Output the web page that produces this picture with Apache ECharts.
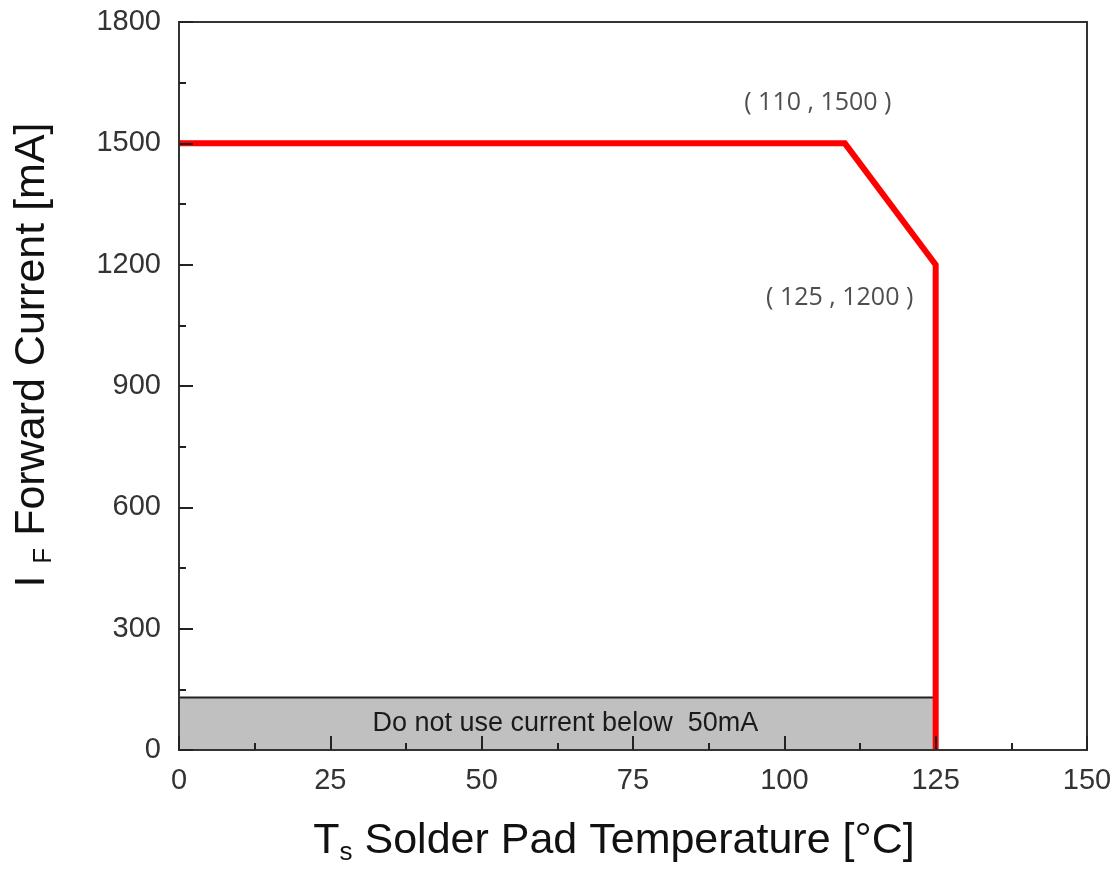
<!DOCTYPE html>
<html>
<head>
<meta charset="utf-8">
<script src="https://cdn.jsdelivr.net/npm/echarts@6/dist/echarts.min.js"></script>
<style>
  html, body { margin: 0; padding: 0; background: #fff; }
  #main { width: 1118px; height: 870px; }
</style>
</head>
<body>
<div id="main"></div>
<script>
// derating curve: Ts [°C] vs IF [mA]
var curveT = [0, 110, 125, 125];
var curveI = [1500, 1500, 1200, 0];
// annotated corner points
var notePoints = [[110, 1500], [125, 1200]];
var noteTexts = ["( 110 , 1500 )", "( 125 , 1200 )"];
// "do not use" band
var bandT = [0, 125];
var bandI = [0, 130];
var bandText = "Do not use current below  50mA";

var curveData = curveT.map(function (t, i) {
  return [t, curveI[i]];
});

var tickLabel = {
  fontFamily: "Liberation Sans",
  fontSize: 29,
  color: "#333",
  formatter: function (v) {
    return String(v);
  },
};
var subStyle = {
  sub: { fontSize: 26, verticalAlign: "bottom", padding: [24, 0, 0, 0], color: "#111" },
};

var myChart = echarts.init(document.getElementById("main"));
myChart.setOption({
  animation: false,
  grid: {
    left: 179,
    top: 22,
    right: 31,
    bottom: 120,
    outerBoundsMode: "none",
    containLabel: false,
    show: true,
    borderColor: "#333",
    borderWidth: 2,
    backgroundColor: "transparent",
  },
  xAxis: {
    type: "value",
    min: 0,
    max: 150,
    interval: 25,
    z: 10,
    name: "T{sub|s} Solder Pad Temperature [°C]",
    nameLocation: "middle",
    nameGap: 66,
    nameTextStyle: {
      fontFamily: "Liberation Sans",
      fontSize: 43,
      color: "#111",
      padding: [0, 38, 0, 0],
      rich: subStyle,
    },
    axisLine: { lineStyle: { color: "#333", width: 2 } },
    axisTick: { inside: true, length: 14, lineStyle: { color: "#222", width: 2 } },
    minorTick: { show: true, splitNumber: 2, length: 7, lineStyle: { color: "#222", width: 2 } },
    splitLine: { show: false },
    axisLabel: Object.assign({ margin: 16 }, tickLabel),
  },
  yAxis: {
    type: "value",
    min: 0,
    max: 1800,
    interval: 300,
    z: 10,
    name: "I {sub|F} Forward Current [mA]",
    nameLocation: "middle",
    nameGap: 122,
    nameTextStyle: {
      fontFamily: "Liberation Sans",
      fontSize: 43,
      color: "#111",
      padding: [0, 0, 0, 62],
      rich: subStyle,
    },
    axisLine: { lineStyle: { color: "#333", width: 2 } },
    axisTick: { inside: true, length: 14, lineStyle: { color: "#222", width: 2 } },
    minorTick: { show: true, splitNumber: 2, length: 7, lineStyle: { color: "#222", width: 2 } },
    splitLine: { show: false },
    axisLabel: Object.assign({ margin: 18 }, tickLabel),
  },
  series: [
    {
      name: "band",
      type: "line",
      data: [],
      z: 1,
      markArea: {
        silent: true,
        itemStyle: { color: "#c0c0c0", borderColor: "#222", borderWidth: 2 },
        label: {
          show: true,
          position: "inside",
          offset: [8, 0],
          fontFamily: "Liberation Sans",
          fontSize: 27,
          color: "#1a1a1a",
          formatter: bandText,
        },
        data: [
          [
            { coord: [bandT[0], bandI[0]] },
            { coord: [bandT[1], bandI[1]] },
          ],
        ],
      },
    },
    {
      name: "IF",
      type: "line",
      data: curveData,
      z: 3,
      symbol: "none",
      lineStyle: { color: "#ff0000", width: 6, join: "miter" },
    },
    {
      name: "notes",
      type: "scatter",
      symbolSize: 0,
      z: 4,
      data: notePoints.map(function (p, i) {
        return {
          value: p,
          label: {
            show: true,
            formatter: noteTexts[i],
            offset: i === 0 ? [-27, -40] : [-96, 33],
          },
        };
      }),
      label: {
        position: "inside",
        fontFamily: "Open Sans",
        fontSize: 25,
        color: "#222",
      },
    },
  ],
});
</script>
</body>
</html>
